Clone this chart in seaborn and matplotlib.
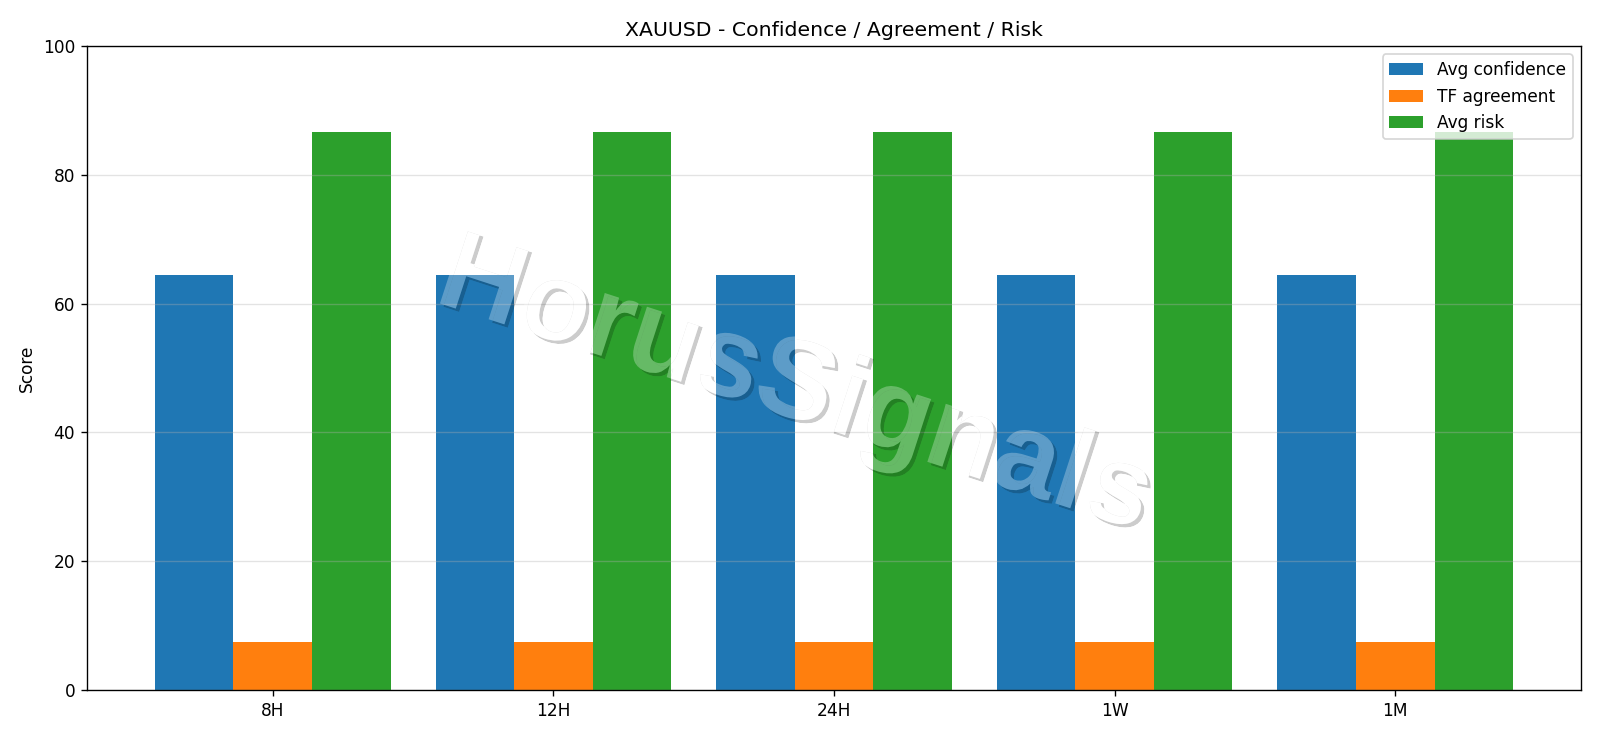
import numpy as np
import pandas as pd
import matplotlib
matplotlib.use("Agg")
import matplotlib.pyplot as plt
import matplotlib.patheffects as pe
import matplotlib.colors as mcolors
from matplotlib.path import Path
from matplotlib.transforms import Affine2D, IdentityTransform, TransformedPath
import seaborn as sns

timeframes = ["8H", "12H", "24H", "1W", "1M"]
avg_confidence = [64.5, 64.5, 64.5, 64.5, 64.5]
tf_agreement = [7.5, 7.5, 7.5, 7.5, 7.5]
avg_risk = [86.7, 86.7, 86.7, 86.7, 86.7]
series_names = ["Avg confidence", "TF agreement", "Avg risk"]
colors = ["#1f77b4", "#ff7f0e", "#2ca02c"]
title = "XAUUSD - Confidence / Agreement / Risk"
watermark = "HorusSignals"

df = pd.DataFrame({
    "tf": timeframes * 3,
    "metric": [series_names[0]] * 5 + [series_names[1]] * 5 + [series_names[2]] * 5,
    "value": avg_confidence + tf_agreement + avg_risk,
})


class KnockoutShadow(pe.AbstractPathEffect):
    """Drop shadow drawn only where the shifted glyph is not covered by the glyph."""

    def __init__(self, shadow_offset=(2, -2), color="black", alpha=0.2):
        super().__init__(offset=(0, 0))
        self._soff = shadow_offset
        self._color = color
        self._salpha = alpha

    def draw_path(self, renderer, gc, tpath, affine, rgbFace=None):
        dx = renderer.points_to_pixels(self._soff[0])
        dy = renderer.points_to_pixels(self._soff[1])
        disp = affine.transform_path(tpath)
        shifted = Affine2D().translate(dx, dy).transform_path(disp)
        verts, codes = [], []
        for poly in shifted.to_polygons(closed_only=True):
            verts.append(poly)
            c = np.full(len(poly), Path.LINETO)
            c[0] = Path.MOVETO
            codes.append(c)
        for poly in disp.to_polygons(closed_only=True):
            poly = poly[::-1]
            verts.append(poly)
            c = np.full(len(poly), Path.LINETO)
            c[0] = Path.MOVETO
            codes.append(c)
        if not verts:
            return
        compound = Path(np.concatenate(verts), np.concatenate(codes))
        gc0 = renderer.new_gc()
        gc0.copy_properties(gc)
        gc0.set_linewidth(0)
        gc0.set_alpha(self._salpha)
        gc0.set_foreground(self._color)
        gc0.set_clip_path(TransformedPath(shifted, IdentityTransform()))
        renderer.draw_path(gc0, compound, IdentityTransform(),
                           mcolors.to_rgba(self._color, self._salpha))
        gc0.restore()


dpi = 122
W, H = 1600, 738
fig = plt.figure(figsize=(W / dpi, H / dpi), dpi=dpi)
ax = fig.add_axes([87 / W, 1 - 690 / H, (1581 - 87) / W, (690 - 46) / H])

sns.barplot(data=df, x="tf", y="value", hue="metric", palette=colors,
            width=0.84, gap=0, saturation=1, errorbar=None, ax=ax)

ax.set_xlim(-0.662, 4.662)
ax.set_ylim(0, 100)
ax.set_xlabel("")
ax.set_ylabel("Score")
ax.set_title(title, fontsize=12)
ax.yaxis.grid(True, color="#b0b0b0", alpha=0.35, linewidth=0.8)
ax.xaxis.grid(False)
ax.legend(loc="upper right", title=None)

ax.text(0.474, 0.470, watermark, transform=ax.transAxes,
        fontsize=68, family="Liberation Sans", fontweight="bold",
        color="white", alpha=0.28,
        rotation=-18, ha="center", va="center", zorder=5,
        path_effects=[KnockoutShadow(shadow_offset=(2, -2), color="black", alpha=0.2),
                      pe.Normal()])

fig.savefig("out.png", dpi=dpi)
